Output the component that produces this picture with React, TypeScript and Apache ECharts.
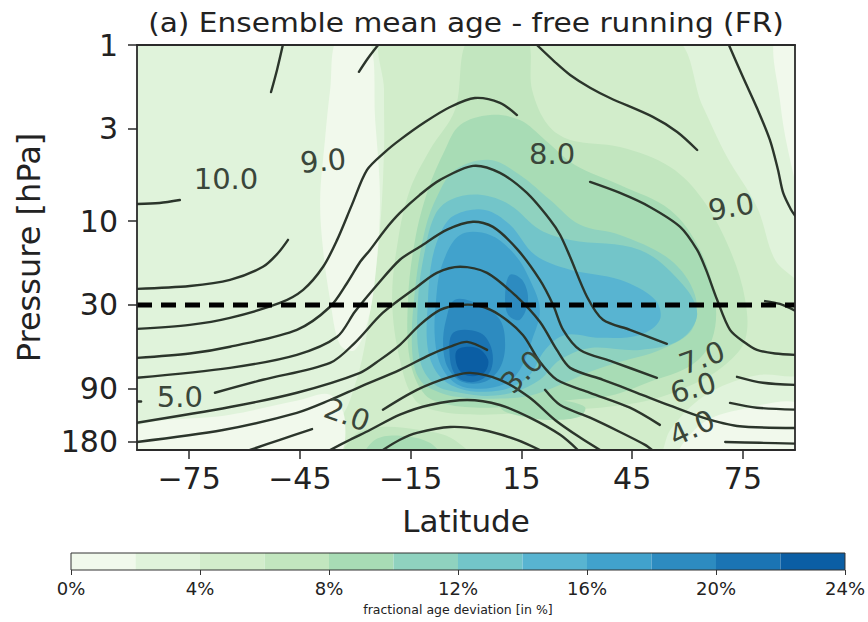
import React, { useEffect, useRef } from 'react';
import * as echarts from 'echarts';

// ---------- axes ----------
const latMin = -89.1;
const latMax = 89.1;
const pTop = 1;
const pBottom = 200;
const xTicks = [-75, -45, -15, 15, 45, 75];
const yTicks = [1, 3, 10, 30, 90, 180];
const refPressure = 30;

// ---------- colour bar ----------
const cbBounds = [0, 2, 4, 6, 8, 10, 12, 14, 16, 18, 20, 22, 24];
const binColors = ['#f1f9ec', '#e0f3db', '#d2edcb', '#c2e6bf', '#a8dcb5', '#8fd2bf', '#73c5c9', '#58b4d1', '#41a2cc', '#2d8bc0', '#1b74b3', '#0b5ea4'];

// ---------- filled regions of fractional age deviation: [lat, hPa] ----------
const dev4a = [[-21.9,0.9],[55.3,0.9],[64.2,2.25],[70.7,4.33],[78.8,8.32],[83.7,16.6],[91,24.6],[91,71.9],[79.6,74.8],[70.2,85.3],[62.0,108],[55.3,154],[51.2,220],[-32.8,220],[-34.7,154],[-31.4,104],[-28.2,61.5],[-25.5,28.0],[-23.3,11.2],[-22.2,3.95],[-22.2,1.80]];
const dev0a = [[-34.7,0.9],[-26.5,0.9],[-24.6,2.67],[-23.3,7.59],[-24.4,18.9],[-26.5,36.4],[-30.1,54.0],[-34.1,50.5],[-36.8,28.0],[-38.7,14.6],[-39.5,7.59],[-38.2,3.46],[-36.8,1.80]];
const dev0b = [[83.7,0.9],[91,0.9],[91,7.59],[87.2,3.95],[85.0,2.05]];
const dev0c = [[-91,150],[-63.9,126],[-45.0,104],[-36.8,97.2],[-32.8,135],[-35.5,220],[-91,220]];
const dev0d = [[58.0,220],[63.4,144],[74.2,118],[91,111],[91,220]];
const dev6a = [[1.1,0.9],[16.0,0.9],[17.9,1.80],[22.2,2.85],[28.2,3.46],[41.7,3.80],[55.3,4.93],[64.2,7.59],[71.5,14.6],[75.6,28.0],[75.6,47.3],[70.2,65.6],[61.2,85.3],[49.8,104],[36.3,115],[25.5,118],[14.6,123],[3.8,126],[-7.0,121],[-13.8,104],[-17.9,61.5],[-20.0,28.0],[-18.4,12.8],[-15.2,6.66],[-9.8,3.95],[-3.0,2.34]];
const dev6b = [[-32.8,220],[-30.1,164],[-23.3,148],[-12.5,154],[-4.3,170],[1.1,220]];
const dev8a = [[-1.6,2.85],[6.5,2.50],[14.6,2.67],[21.4,3.46],[29.5,4.80],[41.7,6.24],[55.3,8.65],[63.4,14.6],[67.5,28.0],[66.6,47.3],[61.2,65.6],[49.8,82.0],[39.0,98.5],[28.2,104],[17.3,111],[6.5,115],[-4.3,111],[-11.1,97.2],[-15.2,61.5],[-15.7,28.0],[-13.8,12.8],[-10.3,6.66],[-5.7,3.95]];
const dev8b = [[9.2,104],[17.3,99.8],[25.5,104],[32.2,114],[30.9,129],[22.8,135],[14.6,128],[9.8,118]];
const dev8c = [[-27.4,220],[-24.6,175],[-17.9,166],[-9.8,182],[-7.0,220]];
const dev10a = [[-3.0,5.13],[6.5,4.50],[14.6,5.47],[22.8,7.59],[30.9,10.5],[41.7,12.0],[55.3,16.6],[62.0,26.3],[61.2,41.5],[52.5,54.0],[41.7,63.1],[33.6,71.9],[25.5,85.3],[17.3,98.5],[9.2,102],[-0.3,101],[-7.0,94.6],[-12.5,79.8],[-14.6,54.0],[-13.8,24.6],[-11.1,11.2],[-7.6,7.1]];
const dev12a = [[-4.3,7.59],[3.8,7.1],[11.9,8.1],[20.0,11.2],[28.2,12.8],[47.1,14.6],[58.8,23.1],[62.6,34.1],[58.0,47.3],[47.1,54.0],[33.6,52.6],[25.5,61.5],[20.0,79.8],[13.3,93.4],[6.5,98.5],[-1.6,94.6],[-8.4,85.3],[-12.5,61.5],[-13.0,28.0],[-11.1,14.6],[-8.4,9.23]];
const dev14a = [[-3.0,9.23],[5.1,8.65],[11.9,10.5],[18.7,15.6],[28.2,18.9],[41.7,21.6],[51.2,28.0],[52.5,36.4],[47.1,44.4],[36.3,46.1],[26.8,44.4],[21.4,54.0],[17.3,74.8],[11.9,88.7],[5.1,93.4],[-1.6,89.8],[-7.0,76.8],[-10.3,54.0],[-10.3,28.0],[-9.2,16.6],[-6.5,11.2]];
const dev16a = [[-1.6,12.0],[6.5,12.0],[13.3,15.6],[17.3,21.6],[20.0,32.0],[17.9,47.3],[14.6,70.1],[10.6,84.1],[3.8,89.8],[-2.2,85.3],[-6.5,68.3],[-8.4,47.3],[-8.1,28.0],[-6.5,17.8]];
const dev18a = [[-3.0,28.0],[3.8,30.0],[9.2,36.4],[10.6,50.5],[9.2,68.3],[5.1,82.0],[-1.1,82.0],[-4.9,68.3],[-6.2,50.5],[-5.4,36.4]];
const dev18b = [[11.9,20.2],[15.2,21.6],[16.8,28.0],[14.6,36.4],[11.4,34.1],[10.6,26.3]];
const dev20a = [[-3.5,43.2],[3.8,43.2],[7.0,54.0],[6.5,71.9],[2.4,82.0],[-2.2,77.8],[-4.3,61.5]];
const dev22a = [[-2.4,54.0],[3.0,52.6],[6.0,61.5],[4.9,72.9],[0.5,75.8],[-2.2,68.3]];

const fillShapes = [dev4a, dev0a, dev0b, dev0c, dev0d, dev6a, dev6b, dev8a, dev8b, dev8c, dev10a, dev12a, dev14a, dev16a, dev18a, dev18b, dev20a, dev22a];
const fillBins = [2, 0, 0, 0, 0, 3, 3, 4, 4, 4, 5, 6, 7, 8, 9, 9, 10, 11];

// ---------- mean age contour lines (years): [lat, hPa] ----------
const age10a = [[-89.1,8.0],[-83.0,7.9],[-77.5,7.6]];
const age10b = [[-52.8,1.85],[-51.2,1.39],[-49.6,1.0]];
const age10c = [[71.2,1.0],[75.0,1.52],[78.8,2.28],[82.3,3.46],[84.5,5.13],[85.9,6.93],[88.0,8.6],[89.1,9.3]];
const age9a = [[-89.1,24.3],[-74.8,23.4],[-63.9,21.6],[-55.0,18.2],[-50.9,15.2],[-48.2,12.8]];
const age9b = [[-29.0,1.42],[-26.5,1.185],[-23.8,1.0]];
const age9c = [[19.2,1.0],[24.1,1.25],[28.2,1.48],[33.6,1.75],[39.0,2.0],[50.6,2.56],[57.2,3.12],[62.6,3.95]];
const age9d = [[81.0,28.5],[85.0,29.6],[89.1,32.3]];
const age8a = [[-89.1,41.0],[-74.8,38.9],[-63.9,35.5],[-50.4,29.2],[-44.1,24.6],[-38.7,18.2],[-34.9,12.8],[-30.9,8.1],[-26.8,5.13],[-21.9,4.05],[-17.9,3.46],[-11.1,2.74],[-4.3,2.25],[2.4,2.0],[9.2,2.13],[13.8,2.5]];
const age8b = [[33.6,6.0],[41.7,6.93],[49.8,8.32],[58.0,10.8],[62.6,14.6],[65.0,18.9],[68.0,28.0],[71.5,41.5],[75.6,49.2],[78.8,54.0],[83.7,56.6],[89.1,57.6]];
const age7a = [[-89.1,59.9],[-74.8,56.6],[-63.9,51.8],[-45.8,41.5],[-36.8,30.7],[-32.2,22.5],[-28.7,17.1],[-26.0,14.6],[-21.9,11.2],[-17.9,9.0],[-12.5,7.1],[-7.0,5.84],[1.9,4.86],[9.2,5.33],[16.5,6.93],[22.8,9.86],[25.5,12.0],[28.2,16.0],[32.8,27.0],[37.1,36.4],[44.4,41.5],[54.4,49.9]];
const age7b = [[73.4,76.8],[80.4,83.0],[89.1,85.3]];
const age6a = [[-89.1,77.8],[-63.9,68.3],[-45.8,57.6],[-34.9,45.5],[-30.1,32.8],[-24.1,23.1],[-17.9,16.6],[-12.5,14.0],[-5.1,11.2],[1.9,10.1],[7.3,10.8],[13.8,14.4],[20.0,21.6],[23.6,30.0],[26.3,41.5],[30.9,54.0],[39.8,63.1],[51.7,77.8]];
const age6b = [[71.5,108],[78.8,115],[89.1,118]];
const age5a = [[-89.1,106],[-88.0,106]];
const age5b = [[-68.0,94.6],[-55.0,79.8],[-36.8,64.0],[-30.1,49.2],[-22.5,33.2],[-13.3,23.7],[-7.9,19.7],[-1.6,18.2],[5.7,19.7],[13.8,27.0],[20.0,37.4],[24.6,54.0],[28.2,68.3],[37.1,79.8],[46.3,94.6],[55.3,112],[64.2,131],[73.4,146],[89.1,150]];
const age4a = [[-89.1,140],[-63.9,114],[-45.8,94.6],[-28.7,72.9],[-23.3,61.5],[-17.9,50.5],[-12.5,38.9],[-7.0,32.0],[-1.6,30.0],[3.8,30.4],[9.2,34.3],[15.4,44.4],[20.0,63.1],[24.6,79.8],[33.6,94.6],[44.4,115],[52.5,144]];
const age4b = [[70.2,180],[79.6,182],[89.1,184]];
const age3a = [[-89.1,180],[-65.8,154],[-45.8,123],[-36.8,104],[-28.7,87.5],[-17.9,70.1],[-9.8,57.6],[-4.3,51.8],[0.3,48.6],[5.7,54.0]];
const age3b = [[21.4,91.0],[25.5,111],[33.6,131],[41.7,158],[48.5,187],[50.4,200]];
const age2a = [[-58.5,200],[-50.4,175],[-41.7,152]];
const age2b = [[-22.5,118],[-13.3,91.0],[-4.3,76.8],[1.1,72.9],[9.2,79.8],[17.3,101],[24.1,135],[30.9,170],[36.3,200]];
const age1a = [[-36.8,200],[-31.4,175],[-26.0,154],[-17.9,126],[-9.8,111],[0.3,104],[9.2,111],[17.3,131],[25.5,164],[30.3,200]];
const age0a = [[-22.5,200],[-17.9,175],[-13.3,160],[-4.3,148],[4.6,154],[13.8,175],[20.0,200]];

const contourSegments = [age10a, age10b, age10c, age9a, age9b, age9c, age9d, age8a, age8b, age7a, age7b, age6a, age6b, age5a, age5b, age4a, age4b, age3a, age3b, age2a, age2b, age1a, age0a];

// ---------- contour labels ----------
const labelText = ['10.0', '9.0', '8.0', '9.0', '7.0', '6.0', '4.0', '5.0', '2.0', '3.0'];
const labelLat = [-65.0, -38.7, 23.3, 71.8, 63.9, 61.5, 61.2, -77.5, -32.2, 15.2];
const labelP = [5.77, 4.56, 4.16, 8.32, 59.9, 88.7, 150, 99.8, 126, 71.9];
const labelAngle = [0, 5, 0, 10, 20, 15, 25, 0, -20, 45];

const FONT = 'DejaVu Sans';
const INK = '#222222';
const LINE = '#2b352b';

const GRID = { left: 137, top: 45, width: 658, height: 405 };
const CB = { left: 71, top: 553, width: 774, height: 17 };

export default function App() {
  const ref = useRef<HTMLDivElement>(null);
  useEffect(() => {
    document.body.style.margin = '0';
    const chart = echarts.init(ref.current as HTMLDivElement, null, { renderer: 'svg' });
    const ly = (p: number) => Math.log10(p);
    const toPx = (api: any, d: number[]) => api.coord([d[0], ly(d[1])]);
    const fmtLat = (v: number) => (v < 0 ? '\u2212' + Math.abs(v) : String(v));

    const option: any = {
      animation: false,
      backgroundColor: '#ffffff',
      graphic: [
        {
          type: 'text',
          x: GRID.left + GRID.width / 2,
          y: 23,
          scaleX: 1.14,
          z: 20,
          style: {
            text: '(a) Ensemble mean age - free running (FR)',
            fontSize: 26,
            fontFamily: FONT,
            fill: INK,
            textAlign: 'center',
            textVerticalAlign: 'middle',
            align: 'center',
            verticalAlign: 'middle',
          },
        },
      ],
      grid: [
        { ...GRID, show: true, backgroundColor: binColors[1], borderWidth: 0, containLabel: false },
        { ...CB, show: false, containLabel: false },
      ],
      xAxis: [
        {
          type: 'value', gridIndex: 0, min: latMin, max: latMax, z: 10,
          axisLine: { show: true, onZero: false, lineStyle: { color: '#2a2a2a', width: 1.8 } },
          axisTick: { show: true, customValues: xTicks, length: 9, lineStyle: { color: '#2a2a2a', width: 1.5 } },
          axisLabel: { show: true, customValues: xTicks, formatter: fmtLat, fontSize: 30, fontFamily: FONT, color: INK, margin: 13 },
          splitLine: { show: false },
          name: 'Latitude', nameLocation: 'middle', nameGap: 55,
          nameTextStyle: { fontSize: 31, fontFamily: FONT, color: INK },
        },
        {
          type: 'value', gridIndex: 1, min: 0, max: 24, interval: 4,
          axisLine: { show: false },
          axisTick: { show: true, length: 5, lineStyle: { color: '#333', width: 1 } },
          axisLabel: { formatter: (v: number) => v + '%', fontSize: 18, fontFamily: FONT, color: INK, margin: 9 },
          splitLine: { show: false },
          name: 'fractional age deviation [in %]', nameLocation: 'middle', nameGap: 33,
          nameTextStyle: { fontSize: 12.5, fontFamily: FONT, color: INK },
        },
        {
          type: 'value', gridIndex: 0, min: latMin, max: latMax, position: 'top', z: 10,
          axisLine: { show: true, onZero: false, lineStyle: { color: '#2a2a2a', width: 1.8 } },
          axisTick: { show: false }, axisLabel: { show: false }, splitLine: { show: false },
        },
      ],
      yAxis: [
        {
          type: 'value', gridIndex: 0, min: ly(pTop), max: ly(pBottom), inverse: true, z: 10,
          axisLine: { show: true, onZero: false, lineStyle: { color: '#2a2a2a', width: 1.8 } },
          axisTick: { show: true, customValues: yTicks.map(ly), length: 9, lineStyle: { color: '#2a2a2a', width: 1.5 } },
          axisLabel: { show: true, customValues: yTicks.map(ly), formatter: (v: number) => String(Math.round(Math.pow(10, v))), fontSize: 30, fontFamily: FONT, color: INK, margin: 19 },
          splitLine: { show: false },
          name: 'Pressure [hPa]', nameLocation: 'middle', nameGap: 92, nameRotate: 90,
          nameTextStyle: { fontSize: 32, fontFamily: FONT, color: INK },
        },
        { type: 'value', gridIndex: 1, min: 0, max: 1, show: false },
        {
          type: 'value', gridIndex: 0, min: ly(pTop), max: ly(pBottom), inverse: true, position: 'right', z: 10,
          axisLine: { show: true, onZero: false, lineStyle: { color: '#2a2a2a', width: 1.8 } },
          axisTick: { show: false }, axisLabel: { show: false }, splitLine: { show: false },
        },
      ],
      series: [
        {
          type: 'custom', xAxisIndex: 0, yAxisIndex: 0, silent: true, clip: true, z: 1,
          data: fillShapes.map((s) => [s[0][0], ly(Math.max(s[0][1], pTop))]),
          renderItem: (params: any, api: any) => {
            const shape = fillShapes[params.dataIndex];
            return {
              type: 'polygon',
              shape: { points: shape.map((d) => toPx(api, d)), smooth: 0.35 },
              style: { fill: binColors[fillBins[params.dataIndex]], stroke: 'none' },
            };
          },
        },
        {
          type: 'custom', xAxisIndex: 0, yAxisIndex: 0, silent: true, clip: true, z: 3,
          data: contourSegments.map((s) => [s[0][0], ly(s[0][1])]),
          renderItem: (params: any, api: any) => {
            const seg = contourSegments[params.dataIndex];
            return {
              type: 'polyline',
              shape: { points: seg.map((d) => toPx(api, d)), smooth: 0.3 },
              style: { stroke: LINE, lineWidth: 2.4, fill: 'none', lineCap: 'round', lineJoin: 'round' },
            };
          },
        },
        {
          type: 'custom', xAxisIndex: 0, yAxisIndex: 0, silent: true, clip: false, z: 4,
          data: labelText.map((_, i) => [labelLat[i], ly(labelP[i])]),
          renderItem: (params: any, api: any) => {
            const i = params.dataIndex;
            const c = api.coord([labelLat[i], ly(labelP[i])]);
            return {
              type: 'text',
              x: c[0], y: c[1],
              rotation: (labelAngle[i] * Math.PI) / 180,
              style: {
                text: labelText[i], fontSize: 29, fontFamily: FONT, fill: '#3a463a',
                textAlign: 'center', textVerticalAlign: 'middle', align: 'center', verticalAlign: 'middle',
              },
            };
          },
        },
        {
          type: 'line', xAxisIndex: 0, yAxisIndex: 0, silent: true, z: 5,
          symbol: 'none',
          data: [[latMin, ly(refPressure)], [latMax, ly(refPressure)]],
          lineStyle: { color: '#000000', width: 5, type: [15, 9], cap: 'butt' },
        },
        {
          type: 'custom', xAxisIndex: 1, yAxisIndex: 1, silent: true, z: 2,
          data: binColors.map((_, i) => [cbBounds[i], 0]),
          renderItem: (params: any, api: any) => {
            const i = params.dataIndex;
            const a = api.coord([cbBounds[i], 0]);
            const b = api.coord([cbBounds[i + 1], 1]);
            return {
              type: 'rect',
              shape: { x: a[0], y: b[1], width: b[0] - a[0], height: a[1] - b[1] },
              style: { fill: binColors[i], stroke: 'none' },
            };
          },
        },
        {
          type: 'custom', xAxisIndex: 1, yAxisIndex: 1, silent: true, z: 3,
          data: [[cbBounds[0], 0]],
          renderItem: (params: any, api: any) => {
            const a = api.coord([cbBounds[0], 0]);
            const b = api.coord([cbBounds[cbBounds.length - 1], 1]);
            return {
              type: 'rect',
              shape: { x: a[0], y: b[1], width: b[0] - a[0], height: a[1] - b[1] },
              style: { fill: 'none', stroke: '#333333', lineWidth: 1 },
            };
          },
        },
      ],
    };
    chart.setOption(option);
    return () => chart.dispose();
  }, []);
  return <div ref={ref} style={{ width: 868, height: 622 }} />;
}
